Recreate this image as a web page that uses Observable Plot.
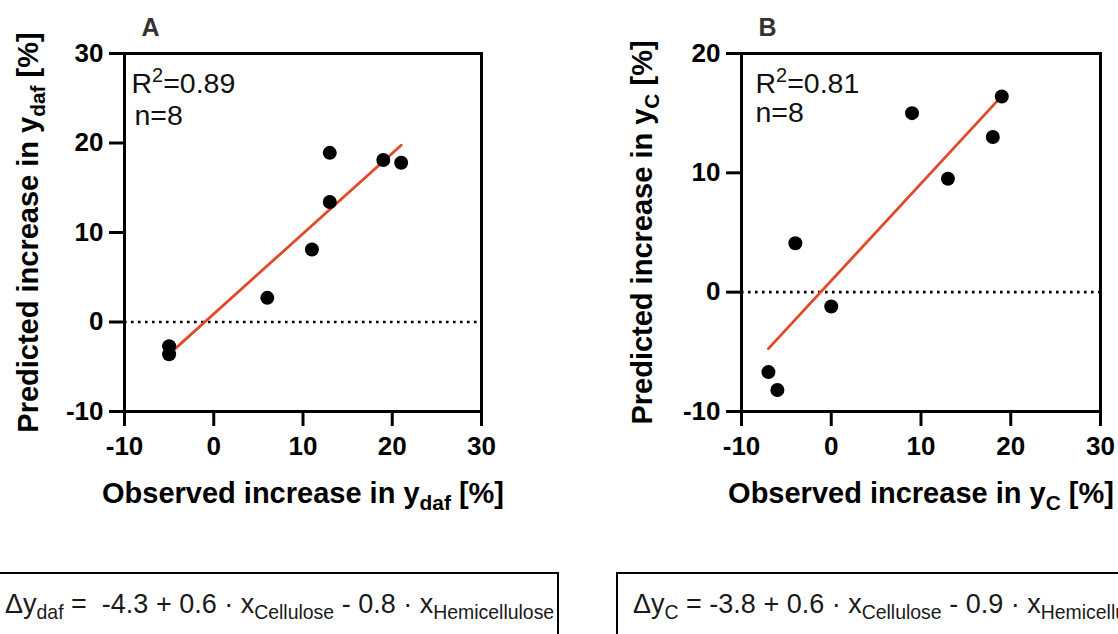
<!DOCTYPE html>
<html><head><meta charset="utf-8">
<script src="https://cdn.jsdelivr.net/npm/d3@7"></script>
<script src="https://cdn.jsdelivr.net/npm/@observablehq/plot@0.6"></script>
<style>
body{margin:0;background:#fff;}
#wrap{position:relative;width:1118px;height:634px;overflow:hidden;background:#fff;font-family:"Liberation Sans",Arial,Helvetica,sans-serif;}
.panel{position:absolute;top:0;}
.eqbox{position:absolute;top:572px;height:100px;border:2.4px solid #000;box-sizing:border-box;}
.eq{position:absolute;top:589px;font-size:27px;line-height:30px;white-space:pre;color:#1a1a1a;}
.eq sub{font-size:0.72em;vertical-align:-0.3em;line-height:0;}
</style>
</head>
<body>
<div id="wrap"></div>
<script>
// ---- data ----
const obsA  = [-5, -5, 6, 11, 13, 13, 19, 21];
const predA = [-2.7, -3.6, 2.7, 8.1, 13.4, 18.9, 18.1, 17.8];
const obsB  = [-7, -6, -4, 0, 9, 13, 18, 19];
const predB = [-6.7, -8.2, 4.1, -1.2, 15, 9.5, 13, 16.4];
const xTicks  = [-10, 0, 10, 20, 30];
const yTicksA = [-10, 0, 10, 20, 30];
const yTicksB = [-10, 0, 10, 20];
const panelLabels = ["A", "B"];
const statsA = ["R^{2}=0.89", "n=8"];
const statsB = ["R^{2}=0.81", "n=8"];
const xTitles = ["Observed increase in y_{daf} [%]", "Observed increase in y_{C} [%]"];
const yTitles = ["Predicted increase in y_{daf} [%]", "Predicted increase in y_{C} [%]"];
const equations = [
  "Δy_{daf} =  -4.3 + 0.6 · x_{Cellulose} - 0.8 · x_{Hemicellulose}",
  "Δy_{C} = -3.8 + 0.6 · x_{Cellulose} - 0.9 · x_{Hemicellulose}"
];

const FONT = '"Liberation Sans", Arial, Helvetica, sans-serif';
const RED = "#e2492b";

function makePanel(cfg) {
  const data = cfg.obs.map((o, i) => ({obs: o, pred: cfg.pred[i]}));
  return Plot.plot({
    width: 559, height: 540,
    marginLeft: cfg.ml, marginRight: cfg.mr, marginTop: 53, marginBottom: 129,
    style: {fontFamily: FONT, fontSize: "26px", background: "none", overflow: "visible", color: "#000"},
    x: {domain: [-10, 30]},
    y: {domain: cfg.ydom},
    marks: [
      Plot.ruleY([0], {stroke: "#000", strokeWidth: 2.6, strokeDasharray: "2.6,4.4"}),
      Plot.linearRegressionY(data, {x: "obs", y: "pred", stroke: RED, strokeWidth: 2.8, ci: 0}),
      Plot.dot(data, {x: "obs", y: "pred", r: 7, fill: "#000", stroke: null}),
      Plot.frame({stroke: "#000", strokeWidth: 3}),
      Plot.axisX({ticks: xTicks, tickSize: 15, tickPadding: 10, strokeWidth: 3, fontSize: 26, fontWeight: "bold", tickFormat: d => String(d), label: null}),
      Plot.axisY({ticks: cfg.yticks, tickSize: 15, tickPadding: 6, strokeWidth: 3, fontSize: 26, fontWeight: "bold", tickFormat: d => String(d), label: null}),
      Plot.text([cfg.label], {text: d => d, frameAnchor: "top-left", dx: 26, dy: -18, textAnchor: "middle", lineAnchor: "bottom", fontSize: 25, fontWeight: "bold", fill: "#333"}),
      Plot.text([cfg.stats[0]], {text: d => d, frameAnchor: "top-left", dx: cfg.sdx[0], dy: 39, textAnchor: "start", lineAnchor: "bottom", fontSize: 28.5, fill: "#111"}),
      Plot.text([cfg.stats[1]], {text: d => d, frameAnchor: "top-left", dx: cfg.sdx[1], dy: cfg.ndy, textAnchor: "start", lineAnchor: "bottom", fontSize: 28.5, fill: "#111"}),
      Plot.text([cfg.xtitle], {text: d => d, frameAnchor: "bottom", dy: 91, textAnchor: "middle", lineAnchor: "bottom", fontSize: 29, fontWeight: "bold", fill: "#000"}),
      Plot.text([cfg.ytitle], {text: d => d, frameAnchor: "left", dx: cfg.ytdx, rotate: -90, textAnchor: "middle", lineAnchor: "bottom", fontSize: 29, fontWeight: "bold", fill: "#000"})
    ]
  });
}

function richify(svg) {
  d3.select(svg).selectAll("text").each(function () {
    const t = this.textContent;
    if (!/[_^]\{/.test(t) || this.querySelector("tspan")) return;
    const fs = parseFloat(getComputedStyle(this).fontSize) || 25;
    const re = /([_^])\{([^}]*)\}/g;
    const parts = [];
    let last = 0, m;
    while ((m = re.exec(t))) {
      if (m.index > last) parts.push({s: t.slice(last, m.index)});
      parts.push({s: m[2], k: m[1]});
      last = re.lastIndex;
    }
    if (last < t.length) parts.push({s: t.slice(last)});
    const sel = d3.select(this);
    sel.text(null);
    let shift = 0;
    for (const p of parts) {
      const ts = sel.append("tspan").text(p.s);
      let target = 0;
      if (p.k === "_") { target = 0.27 * fs; ts.attr("font-size", (0.72 * fs) + "px"); }
      else if (p.k === "^") { target = -0.38 * fs; ts.attr("font-size", (0.7 * fs) + "px"); }
      if (target !== shift) { ts.attr("dy", target - shift); shift = target; }
    }
  });
}

const wrap = document.getElementById("wrap");
const pA = makePanel({obs: obsA, pred: predA, ydom: [-10, 30], yticks: yTicksA, ml: 124, mr: 78,
  label: panelLabels[0], stats: statsA, sdx: [7, 10], ndy: 71, xtitle: xTitles[0], ytitle: yTitles[0], ytdx: -87});
const pB = makePanel({obs: obsB, pred: predB, ydom: [-10, 20], yticks: yTicksB, ml: 182, mr: 18,
  label: panelLabels[1], stats: statsB, sdx: [14, 14], ndy: 68, xtitle: xTitles[1], ytitle: yTitles[1], ytdx: -90});
pA.classList.add("panel"); pA.style.left = "0px";
pB.classList.add("panel"); pB.style.left = "559px";
wrap.appendChild(pA);
wrap.appendChild(pB);
richify(pA);
richify(pB);

// equation boxes
const boxes = [{left: -3, width: 562, tx: 5}, {left: 616, width: 520, tx: 633}];
equations.forEach((eq, i) => {
  const b = document.createElement("div");
  b.className = "eqbox";
  b.style.left = boxes[i].left + "px";
  b.style.width = boxes[i].width + "px";
  wrap.appendChild(b);
  const t = document.createElement("div");
  t.className = "eq";
  t.style.left = boxes[i].tx + "px";
  t.innerHTML = eq.replace(/_\{([^}]*)\}/g, "<sub>$1</sub>");
  wrap.appendChild(t);
});
</script>
</body></html>
